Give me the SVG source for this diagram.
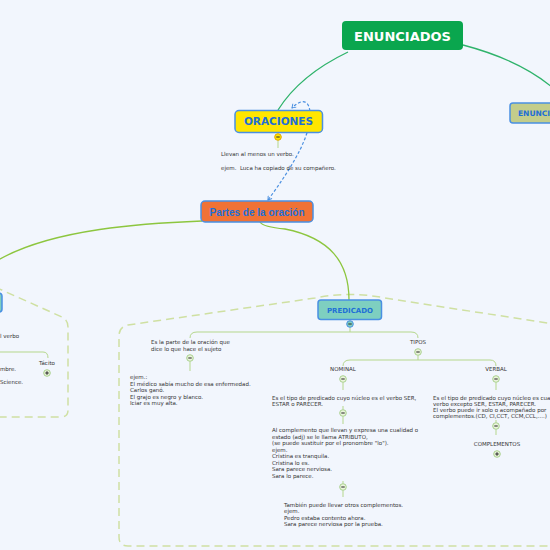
<svg xmlns="http://www.w3.org/2000/svg" width="550" height="550" viewBox="0 0 550 550">
<style>
.bg{fill:#f2f6fd}
.node{stroke:#4a90e2;stroke-width:1.5}
.t{font-family:"DejaVu Sans",Verdana,sans-serif;font-size:5.5px;fill:#333}
.nt{font-family:"DejaVu Sans",Verdana,sans-serif;font-weight:bold;fill:#1f6fd6;text-anchor:middle}
.main{fill:none;stroke-width:1.3}
.br{fill:none;stroke:#b5d78c;stroke-width:1}
.bound{fill:none;stroke:#cfe0a2;stroke-width:1.5;stroke-dasharray:8 5}
.rel{fill:none;stroke:#4a8fe0;stroke-width:1.2;stroke-dasharray:3 2}
</style>
<defs>
<g id="cm"><circle r="3.3" fill="#eaf4dc" stroke="#a9d18e" stroke-width="1"/><line x1="-1.7" x2="1.7" stroke="#333" stroke-width="1.1"/></g>
<g id="cp"><circle r="3.3" fill="#eaf4dc" stroke="#a9d18e" stroke-width="1"/><line x1="-1.7" x2="1.7" stroke="#333" stroke-width="1.1"/><line y1="-1.7" y2="1.7" stroke="#333" stroke-width="1.1"/></g>
<marker id="ah" viewBox="0 0 10 10" refX="8" refY="5" markerWidth="6" markerHeight="6" orient="auto-start-reverse" markerUnits="userSpaceOnUse"><path d="M2,1 L8,5 L2,9" fill="none" stroke="#4a8fe0" stroke-width="1.6"/></marker>
</defs>
<rect class="bg" x="0" y="0" width="550" height="550"/>

<g id="boundaries">
<path class="bound" d="M -5,287 L 62,317 Q 68,320 68,327 L 68,410 Q 68,417 61,417 L -5,417"/>
<path class="bound" d="M 560,325 L 385,298 Q 350,291 315,298 L 128,325 Q 119,327 119,336 L 119,537 Q 119,546 128,546 L 560,546"/>
</g>

<g id="connectors">
<path class="main" stroke="#2fb36b" d="M 348,52 Q 300,75 278,110"/>
<path class="main" stroke="#2fb36b" d="M 463,45 Q 520,60 553,88"/>
<path class="main" stroke="#8dc63f" d="M 202,221 C 150,223 50,228 -5,262"/>
<path class="main" stroke="#8dc63f" d="M 260,222 Q 263,227 285,229 C 330,238 349,262 349,300"/>
<path class="rel" marker-start="url(#ah)" marker-end="url(#ah)" d="M 268,200 C 290,170 305,145 309,125 C 313,105 306,94 292,108"/>
<path class="br" stroke="#8fd19e" d="M 278,140.5 V 148"/>
<path class="br" d="M 350,327.5 V 332 M 190,338 Q 190,332 197,332 L 411,332 Q 418,332 418,338"/>
<path class="br" d="M 190,361.5 V 371"/>
<path class="br" d="M 418,355.5 V 360 M 343,366 Q 343,360 350,360 L 490,360 Q 496,360 496,366"/>
<path class="br" d="M 343,382.5 V 390"/>
<path class="br" d="M 343,406 V 409.5 M 343,416.5 V 424"/>
<path class="br" d="M 343,481 V 483.5 M 343,490.5 V 497"/>
<path class="br" d="M 496,382.5 V 390"/>
<path class="br" d="M 496,420 V 422.5 M 496,429.5 V 435"/>
<path class="br" d="M -5,352 L 43,352 Q 48,352 48,358"/>
</g>

<g id="enunciados">
<rect x="342" y="21" width="121" height="29" rx="4" fill="#0aa64e"/>
<text x="402.5" y="40.5" font-family="'DejaVu Sans',Verdana,sans-serif" font-weight="bold" font-size="13" fill="#fff" text-anchor="middle">ENUNCIADOS</text>
</g>

<g id="enunci-right">
<rect class="node" x="510" y="103" width="60" height="20" rx="3" fill="#c3cd8b"/>
<text class="nt" x="518" y="116" font-size="7.5" style="text-anchor:start">ENUNCI</text>
</g>

<g id="oraciones">
<rect class="node" x="235" y="110.5" width="87.5" height="22" rx="4" fill="#ffe600"/>
<text class="nt" x="278.5" y="125.3" font-size="10.5">ORACIONES</text>
<circle cx="278" cy="137" r="3.3" fill="#ffe600" stroke="#e0a800" stroke-width="1"/>
<line x1="276.3" x2="279.7" y1="137" y2="137" stroke="#333" stroke-width="1.1"/>
</g>

<g id="oraciones-text">
<text class="t" x="221" y="156">Llevan al menos un verbo.</text>
<text class="t" x="221" y="170" xml:space="preserve">ejem.  Luca ha copiado de su compañero.</text>
</g>

<g id="partes">
<rect class="node" x="201" y="201" width="112" height="21" rx="4" fill="#f07236"/>
<text x="257" y="215.5" font-family="'Liberation Sans',Arial,sans-serif" font-weight="bold" font-size="10" fill="#1f6fd6" text-anchor="middle">Partes de la oración</text>
</g>

<g id="sujeto">
<rect class="node" x="-60" y="293" width="62" height="19" rx="3" fill="#7ecfc0"/>
<text class="t" x="0" y="337.5">l verbo</text>
<text class="t" x="0" y="371">mbre.</text>
<text class="t" x="0" y="384">Science.</text>
</g>

<g id="tacito">
<text class="t" x="47" y="364.5" text-anchor="middle">Tácito</text>
<use href="#cp" x="47" y="373"/>
</g>

<g id="predicado">
<rect class="node" x="318" y="300" width="63.5" height="19.5" rx="3" fill="#7ecfc0"/>
<text class="nt" x="350" y="312.5" font-size="7">PREDICADO</text>
<circle cx="350" cy="324" r="3.3" fill="#7ecfc0" stroke="#4a90e2" stroke-width="1"/>
<line x1="348.3" x2="351.7" y1="324" y2="324" stroke="#333" stroke-width="1.1"/>
</g>

<g id="pred-def">
<text class="t" x="151" y="344">Es la parte de la oración que</text>
<text class="t" x="151" y="350.5">dice lo que hace el sujeto</text>
<use href="#cm" x="190" y="358"/>
</g>

<g id="pred-ejem">
<text class="t" x="130" y="379">ejem.:</text>
<text class="t" x="130" y="385.5">El médico sabía mucho de esa enfermedad.</text>
<text class="t" x="130" y="392">Carlos ganó.</text>
<text class="t" x="130" y="398.5">El grajo es negro y blanco.</text>
<text class="t" x="130" y="405">Iciar es muy alta.</text>
</g>

<g id="tipos">
<text class="t" x="418" y="344" text-anchor="middle">TIPOS</text>
<use href="#cm" x="418" y="352"/>
</g>

<g id="nominal">
<text class="t" x="343" y="371" text-anchor="middle">NOMINAL</text>
<use href="#cm" x="343" y="379"/>
</g>

<g id="nominal-def">
<text class="t" x="272" y="400">Es el tipo de predicado cuyo núcleo es el verbo SER,</text>
<text class="t" x="272" y="406">ESTAR o PARECER.</text>
<use href="#cm" x="343" y="413"/>
</g>

<g id="atributo">
<text class="t" x="272" y="432">Al complemento que llevan y expresa una cualidad o</text>
<text class="t" x="272" y="438.5">estado (adj) se le llama ATRIBUTO,</text>
<text class="t" x="272" y="445">(se puede sustituir por el pronombre "lo").</text>
<text class="t" x="272" y="451.5">ejem.</text>
<text class="t" x="272" y="458">Cristina es tranquila.</text>
<text class="t" x="272" y="464.5">Cristina lo es.</text>
<text class="t" x="272" y="471">Sara parece nerviosa.</text>
<text class="t" x="272" y="477.5">Sara lo parece.</text>
<use href="#cm" x="343" y="487"/>
</g>

<g id="otros">
<text class="t" x="284" y="506.5">También puede llevar otros complementos.</text>
<text class="t" x="284" y="513">ejem.</text>
<text class="t" x="284" y="519.5">Pedro estaba contento ahora.</text>
<text class="t" x="284" y="526">Sara parece nerviosa por la prueba.</text>
</g>

<g id="verbal">
<text class="t" x="496" y="371" text-anchor="middle">VERBAL</text>
<use href="#cm" x="496" y="379"/>
</g>

<g id="verbal-def">
<text class="t" x="433" y="399.5">Es el tipo de predicado cuyo núcleo es cual</text>
<text class="t" x="433" y="405.7">verbo excepto SER, ESTAR, PARECER.</text>
<text class="t" x="433" y="411.9">El verbo puede ir solo o acompañado por</text>
<text class="t" x="433" y="418.1">complementos.(CD, CI,CCT, CCM,CCL,....)</text>
<use href="#cm" x="496" y="426"/>
</g>

<g id="complementos">
<text class="t" x="497" y="446" text-anchor="middle">COMPLEMENTOS</text>
<use href="#cp" x="497" y="454"/>
</g>
</svg>
